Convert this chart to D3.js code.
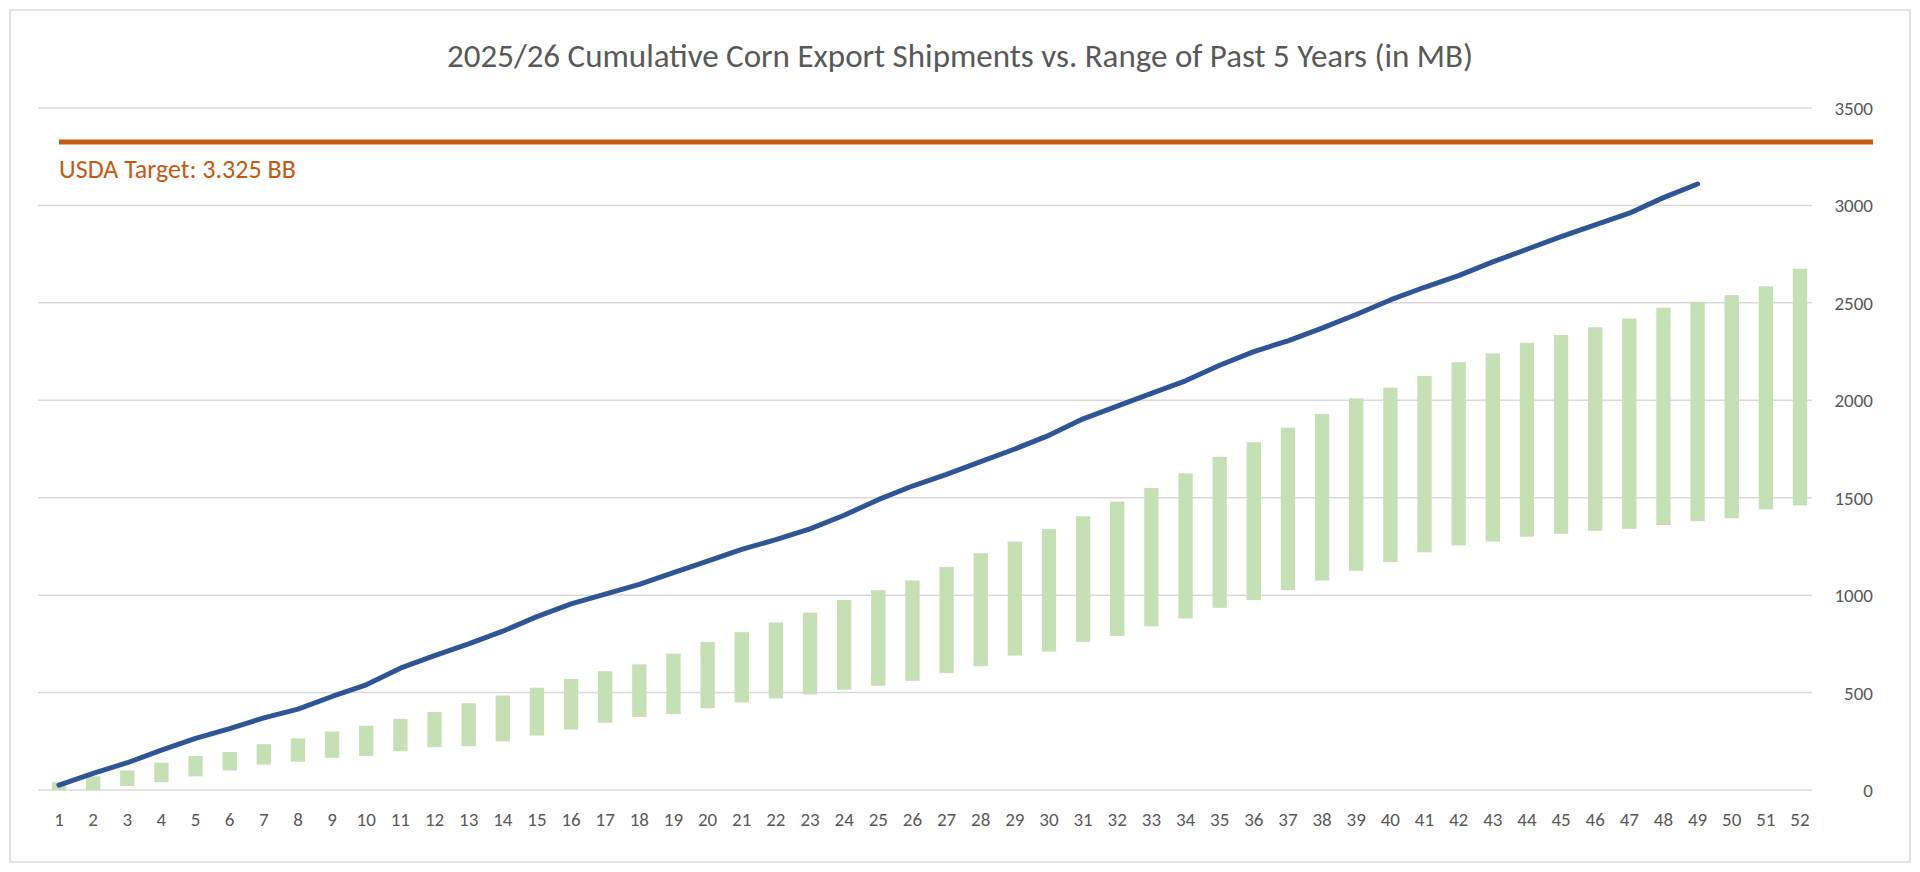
<!DOCTYPE html>
<html><head><meta charset="utf-8">
<script src="https://cdn.jsdelivr.net/npm/d3@7"></script>
<style>body{margin:0;background:#fff;font-family:Calibri,"Open Sans",sans-serif}</style>
</head><body><svg id="c" width="1920" height="872"></svg>
<script>
// weeks 1..52
var weeks = d3.range(1, 53);
// past 5 years range (low / high), MB
var rangeLow = [0,0,20,40,70,100,130,145,165,175,200,220,225,250,280,310,345,375,390,420,450,470,490,515,535,560,600,635,690,710,760,790,840,880,935,975,1025,1075,1125,1170,1220,1255,1275,1300,1315,1330,1340,1360,1380,1395,1440,1460];
var rangeHigh = [40,70,100,140,175,195,235,265,300,330,365,400,445,485,525,570,610,645,700,760,810,860,910,975,1025,1075,1145,1215,1275,1340,1405,1480,1550,1625,1710,1785,1860,1930,2010,2065,2125,2195,2240,2295,2335,2375,2420,2475,2505,2540,2585,2675];
// 2025/26 cumulative shipments
var current = [25,85,140,205,265,315,370,415,480,540,625,690,750,815,890,955,1005,1055,1115,1175,1235,1285,1340,1410,1490,1560,1620,1685,1750,1820,1905,1970,2035,2100,2180,2250,2305,2370,2440,2515,2580,2640,2710,2775,2840,2900,2960,3040,3110];
var target = 3325;
var yTicks = [0,500,1000,1500,2000,2500,3000,3500];

var svg = d3.select("#c");
svg.append("rect").attr("x",10).attr("y",10).attr("width",1900).attr("height",852)
  .attr("fill","none").attr("stroke","#d9d9d9").attr("stroke-width",1.5);

var x = d3.scalePoint().domain(weeks).range([59, 1800]);
var bw = x.step() * 0.42;
var y = d3.scaleLinear().domain([0, 3500]).range([790, 108]);

svg.append("text").attr("x", 960).attr("y", 67).attr("text-anchor","middle")
  .attr("font-size", 33).attr("fill","#595959")
  .text("2025/26 Cumulative Corn Export Shipments vs. Range of Past 5 Years (in MB)");

// gridlines
svg.selectAll(".grid").data(yTicks).enter().append("line")
  .attr("x1", 38).attr("x2", 1812)
  .attr("y1", d => y(d)).attr("y2", d => y(d))
  .attr("stroke","#d9d9d9").attr("stroke-width",1.5);

// y axis labels on right
svg.selectAll(".yl").data(yTicks).enter().append("text")
  .attr("x", 1873).attr("y", d => y(d) + 7).attr("text-anchor","end")
  .attr("font-size", 19).attr("fill","#595959").text(d => d);

// x axis labels
svg.selectAll(".xl").data(weeks).enter().append("text")
  .attr("x", d => x(d)).attr("y", 826).attr("text-anchor","middle")
  .attr("font-size", 19).attr("fill","#595959").text(d => d);

// range bars
svg.selectAll(".bar").data(weeks).enter().append("rect")
  .attr("x", d => x(d) - bw/2).attr("width", bw)
  .attr("y", (d,i) => y(rangeHigh[i]))
  .attr("height", (d,i) => y(rangeLow[i]) - y(rangeHigh[i]))
  .attr("fill","#c5e0b4");

// target line
svg.append("line").attr("x1", 59).attr("x2", 1873)
  .attr("y1", y(target)).attr("y2", y(target))
  .attr("stroke","#c55a11").attr("stroke-width",5);
svg.append("text").attr("x", 59).attr("y", y(target) + 36)
  .attr("font-size", 26).attr("fill","#c55a11").text("USDA Target: 3.325 BB");

// current year line
var line = d3.line().x((d,i) => x(weeks[i])).y(d => y(d));
svg.append("path").datum(current).attr("d", line)
  .attr("fill","none").attr("stroke","#2f5597").attr("stroke-width",5)
  .attr("stroke-linejoin","round").attr("stroke-linecap","round");
</script></body></html>
